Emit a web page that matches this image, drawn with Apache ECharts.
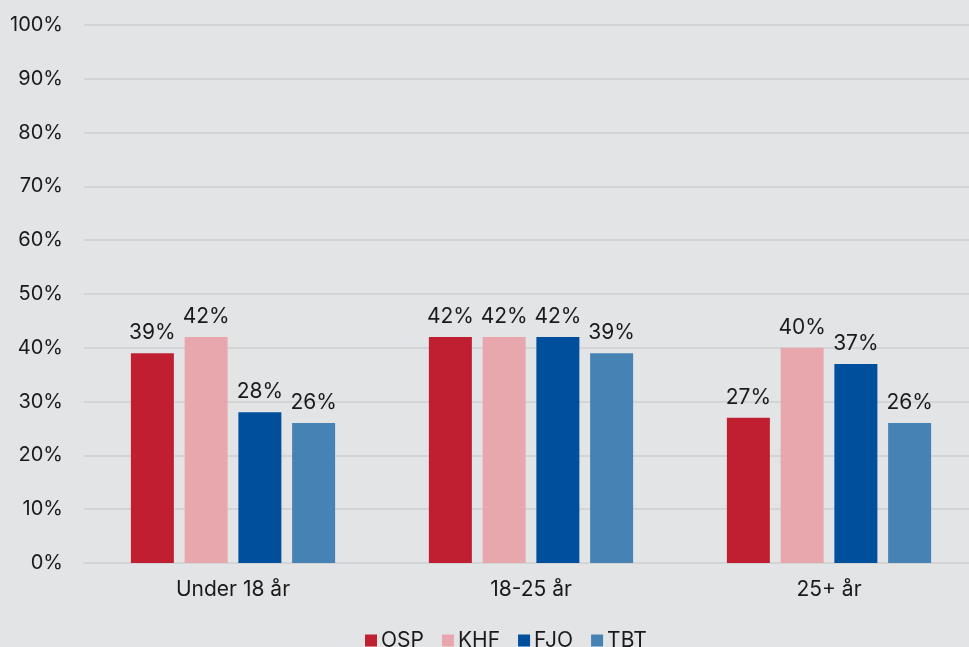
<!DOCTYPE html>
<html><head><meta charset="utf-8">
<script src="https://cdn.jsdelivr.net/npm/echarts@6/dist/echarts.min.js"></script>
<style>html,body{margin:0;padding:0;background:#e3e4e6;overflow:hidden;}#c{width:978px;height:647px;}</style>
</head><body><div id="c"></div>
<script>
const categories = ["Under 18 år", "18-25 år", "25+ år"];
const seriesNames = ["OSP", "KHF", "FJO", "TBT"];
const OSP = [39, 42, 27];
const KHF = [42, 42, 40];
const FJO = [28, 42, 37];
const TBT = [26, 39, 26];
const colors = ["#c01f31", "#e8a7ac", "#004f9d", "#4682b4"];
const values = [OSP, KHF, FJO, TBT];
const font = "Inter";
const fs = 21;
const chart = echarts.init(document.getElementById('c'), null, {renderer: 'canvas'});
chart.setOption({
  backgroundColor: '#e3e4e6',
  animation: false,
  textStyle: {fontFamily: font},
  grid: {left: 84, right: 0, top: 25, bottom: 84, containLabel: false},
  legend: {
    bottom: -9, left: 360, itemWidth: 12, itemHeight: 12, itemGap: 18,
    icon: 'rect',
    textStyle: {fontFamily: font, fontSize: fs, color: '#1a1a1a', padding: [0,0,0,-1]},
    data: seriesNames
  },
  xAxis: {
    type: 'category', data: categories,
    axisLine: {show: true, lineStyle: {color: '#d3d4d6', width: 2}},
    axisTick: {show: false},
    axisLabel: {fontFamily: font, fontSize: fs, color: '#1a1a1a', margin: 16}
  },
  yAxis: {
    type: 'value', min: 0, max: 100, interval: 10,
    axisLabel: {formatter: '{value}%', fontFamily: font, fontSize: 20, color: '#1a1a1a', margin: 21},
    splitLine: {lineStyle: {color: '#d3d4d6', width: 2}},
    axisLine: {show: false}, axisTick: {show: false}
  },
  series: seriesNames.map((n, i) => ({
    name: n, type: 'bar', data: values[i],
    barWidth: 43, barGap: '25%',
    itemStyle: {color: colors[i]},
    label: {show: true, position: 'top', distance: 10, formatter: '{c}%', fontFamily: font, fontSize: fs, color: '#1a1a1a'}
  }))
});
</script></body></html>
